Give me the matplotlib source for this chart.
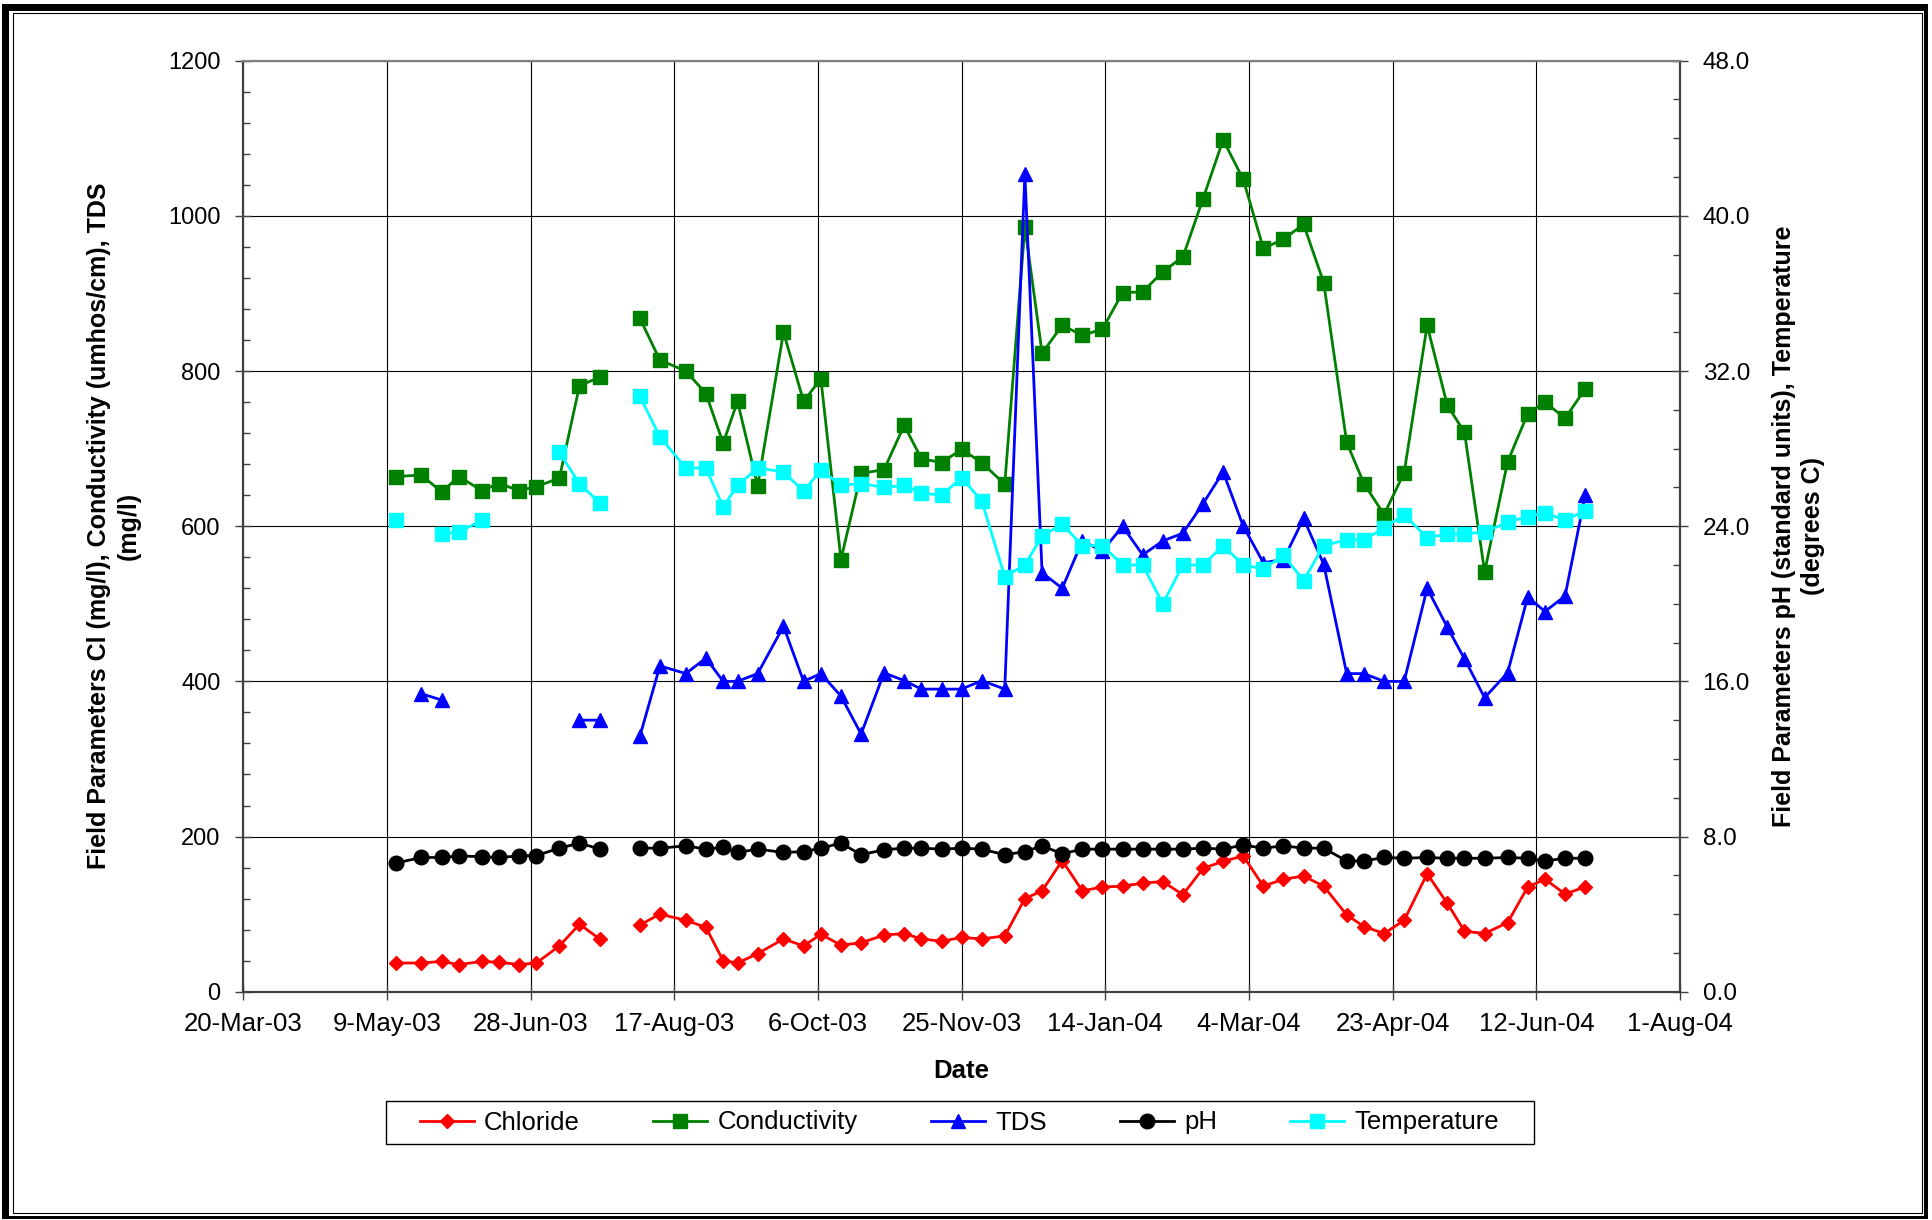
import numpy as np
import pandas as pd
import matplotlib
matplotlib.use("Agg")
import matplotlib.pyplot as plt
import matplotlib.dates as mdates
from matplotlib.ticker import FixedLocator, MultipleLocator, FuncFormatter
from matplotlib.patches import Rectangle

nan = np.nan

# sample dates (29-Jul-03 is an empty row, it breaks the lines like in the sheet)
dates = ["12-May-03", "21-May-03", "28-May-03", "3-Jun-03", "11-Jun-03", "17-Jun-03",
         "24-Jun-03", "30-Jun-03", "8-Jul-03", "15-Jul-03", "22-Jul-03", "29-Jul-03",
         "5-Aug-03", "12-Aug-03", "21-Aug-03", "28-Aug-03", "3-Sep-03", "8-Sep-03",
         "15-Sep-03", "24-Sep-03", "1-Oct-03", "7-Oct-03", "14-Oct-03", "21-Oct-03",
         "29-Oct-03", "5-Nov-03", "11-Nov-03", "18-Nov-03", "25-Nov-03", "2-Dec-03",
         "10-Dec-03", "17-Dec-03", "23-Dec-03", "30-Dec-03", "6-Jan-04", "13-Jan-04",
         "20-Jan-04", "27-Jan-04", "3-Feb-04", "10-Feb-04", "17-Feb-04", "24-Feb-04",
         "2-Mar-04", "9-Mar-04", "16-Mar-04", "23-Mar-04", "30-Mar-04", "7-Apr-04",
         "13-Apr-04", "20-Apr-04", "27-Apr-04", "5-May-04", "12-May-04", "18-May-04",
         "25-May-04", "2-Jun-04", "9-Jun-04", "15-Jun-04", "22-Jun-04", "29-Jun-04"]

chloride = [37, 37, 39, 35, 39, 38, 35, 37, 59, 87, 68, nan,
            86, 100, 92, 83, 40, 37, 49, 68, 59, 74, 60, 63,
            73, 75, 68, 65, 70, 68, 72, 120, 130, 169, 130, 135,
            136, 140, 142, 125, 159, 168, 175, 136, 145, 149, 136, 99,
            84, 75, 92, 152, 114, 78, 75, 89, 135, 145, 126, 135]

conductivity = [664, 666, 644, 664, 646, 655, 646, 651, 662, 781, 792, nan,
                868, 814, 800, 771, 707, 761, 652, 850, 761, 790, 557, 668,
                673, 730, 687, 682, 699, 682, 654, 986, 823, 859, 846, 854,
                901, 902, 928, 947, 1022, 1098, 1047, 958, 970, 989, 914, 708,
                655, 615, 669, 859, 756, 721, 541, 683, 745, 760, 739, 777]

tds = [nan, 384, 376, nan, nan, nan, nan, nan, nan, 350, 350, nan,
       329, 420, 410, 430, 400, 400, 410, 471, 400, 410, 381, 332,
       411, 401, 390, 390, 390, 401, 390, 1054, 540, 520, 581, 568,
       600, 563, 581, 591, 629, 670, 600, 553, 557, 610, 551, 410,
       410, 400, 400, 520, 470, 429, 379, 411, 509, 490, 510, 640]

ph = [6.63, 6.92, 6.92, 7.00, 6.96, 6.92, 7.00, 7.02, 7.40, 7.66, 7.36, nan,
      7.40, 7.40, 7.52, 7.35, 7.44, 7.18, 7.35, 7.18, 7.22, 7.40, 7.66, 7.06,
      7.32, 7.40, 7.40, 7.35, 7.40, 7.35, 7.06, 7.22, 7.52, 7.11, 7.35, 7.35,
      7.35, 7.35, 7.35, 7.35, 7.40, 7.35, 7.56, 7.40, 7.52, 7.40, 7.40, 6.74,
      6.74, 6.92, 6.88, 6.92, 6.88, 6.88, 6.88, 6.92, 6.88, 6.74, 6.88, 6.88]

temperature = [24.3, nan, 23.6, 23.7, 24.3, nan, nan, nan, 27.8, 26.2, 25.2, nan,
               30.7, 28.6, 27.0, 27.0, 25.0, 26.1, 27.0, 26.8, 25.8, 26.9, 26.1, 26.2,
               26.0, 26.1, 25.7, 25.6, 26.5, 25.3, 21.4, 22.0, 23.5, 24.1, 23.0, 23.0,
               22.0, 22.0, 20.0, 22.0, 22.0, 23.0, 22.0, 21.8, 22.5, 21.2, 23.0, 23.3,
               23.3, 23.9, 24.6, 23.4, 23.6, 23.6, 23.7, 24.2, 24.5, 24.7, 24.3, 24.8]

x_start, x_end = "20-Mar-03", "1-Aug-04"

t = pd.to_datetime(dates, format="%d-%b-%y")

W, H = 1933, 1220
plt.rcParams['font.family'] = ['Liberation Sans', 'DejaVu Sans']

fig = plt.figure(figsize=(W / 100, H / 100), dpi=100)
# plot area in pixels: left 243, right 1680, top 61, bottom 992
ax = fig.add_axes([243.3 / W, 1 - 991.7 / H, (1680 - 243.3) / W, (991.7 - 60.7) / H])
ax2 = ax.twinx()

lw = 2.0
l1, = ax.plot(t, chloride, color='#ff0000', marker='D', ms=7.5, lw=lw, mec='#ff0000', label='Chloride')
l2, = ax.plot(t, conductivity, color='#008000', marker='s', ms=10.5, lw=lw, mec='#008000', label='Conductivity')
l3, = ax.plot(t, tds, color='#0000ff', marker='^', ms=10.5, lw=lw, mec='#0000ff', label='TDS')
l4, = ax2.plot(t, ph, color='black', marker='o', ms=10.5, lw=lw, label='pH')
l5, = ax2.plot(t, temperature, color='#00ffff', marker='s', ms=10.5, lw=lw, mec='#00ffff', label='Temperature')

# axes ranges and ticks
x0 = pd.to_datetime(x_start, format="%d-%b-%y")
x1 = pd.to_datetime(x_end, format="%d-%b-%y")
ax.set_xlim(x0, x1)
xt = pd.date_range(x0, x1, freq="50D")
ax.xaxis.set_major_locator(FixedLocator(mdates.date2num(xt)))


def fmt_date(v, pos):
    d = mdates.num2date(v)
    return f"{d.day}-{d:%b-%y}"


ax.xaxis.set_major_formatter(FuncFormatter(fmt_date))

ax.set_ylim(0, 1200)
ax.yaxis.set_major_locator(MultipleLocator(200))
ax.yaxis.set_minor_locator(MultipleLocator(40))
ax2.set_ylim(0, 48)
ax2.yaxis.set_major_locator(MultipleLocator(8))
ax2.yaxis.set_minor_locator(MultipleLocator(2))
ax2.yaxis.set_major_formatter(FuncFormatter(lambda v, p: f"{v:.1f}"))

ax.grid(True, which='major', color='black', lw=0.8)

ax.tick_params(axis='both', which='major', direction='inout', length=11.5, width=1,
               labelsize=17, color='#404040')
ax.tick_params(axis='y', which='major', pad=10.5)
ax.tick_params(axis='x', which='major', pad=9, labelsize=18.5)
ax.tick_params(axis='y', which='minor', direction='in', length=5, width=1, color='#404040')
ax2.tick_params(axis='y', which='major', direction='inout', length=11.5, width=1,
                labelsize=17.5, pad=10.5, color='#404040')
ax2.tick_params(axis='y', which='minor', direction='in', length=5, width=1, color='#404040')

for a in (ax, ax2):
    for side, sp in a.spines.items():
        sp.set_linewidth(1.5)
        sp.set_color('#808080' if side == 'top' else '#404040')

# labels
ax.set_ylabel("Field Parameters Cl (mg/l), Conductivity (umhos/cm), TDS\n(mg/l)",
              fontsize=18, fontweight='bold', linespacing=1.3, va='center', ha='center')
ax.yaxis.set_label_coords(-0.090, 0.5)
ax2.set_ylabel("Field Parameters pH (standard units), Temperature\n(degrees C)",
               fontsize=18, fontweight='bold', linespacing=1.3, va='center', ha='center')
ax2.yaxis.set_label_coords(1.0825, 0.5)
ax.set_xlabel("Date", fontsize=18.5, fontweight='bold', va='center')
ax.xaxis.set_label_coords(0.5, -0.0852)

# legend below the plot with its own box
fig.legend([l1, l2, l3, l4, l5], [l.get_label() for l in (l1, l2, l3, l4, l5)],
           loc='center', bbox_to_anchor=(959.5 / W, 1 - 1122.5 / H), ncol=5, frameon=False,
           fontsize=18.5, handlelength=2.1, handletextpad=0.4, columnspacing=2.85)
fig.add_artist(Rectangle((386 / W, 1 - 1144 / H), 1148 / W, 43 / H, transform=fig.transFigure,
                         fill=False, edgecolor='black', lw=1))


# outer double border of the chart
def px_rect(xa, ya, xb, yb, **kw):
    return Rectangle((xa / W, 1 - yb / H), (xb - xa) / W, (yb - ya) / H,
                     transform=fig.transFigure, **kw)


for r in [(2, 4, 9.5, 1219.3), (2, 4, 1927.7, 10.7), (1924, 4, 1927.7, 1219.3), (2, 1215.7, 1927.7, 1219.3)]:
    fig.add_artist(px_rect(*r, facecolor='black', edgecolor='none'))
fig.add_artist(px_rect(13, 13.3, 1921.7, 1213.3, fill=False, edgecolor='black', lw=0.8))

fig.savefig("out.png", dpi=100)
